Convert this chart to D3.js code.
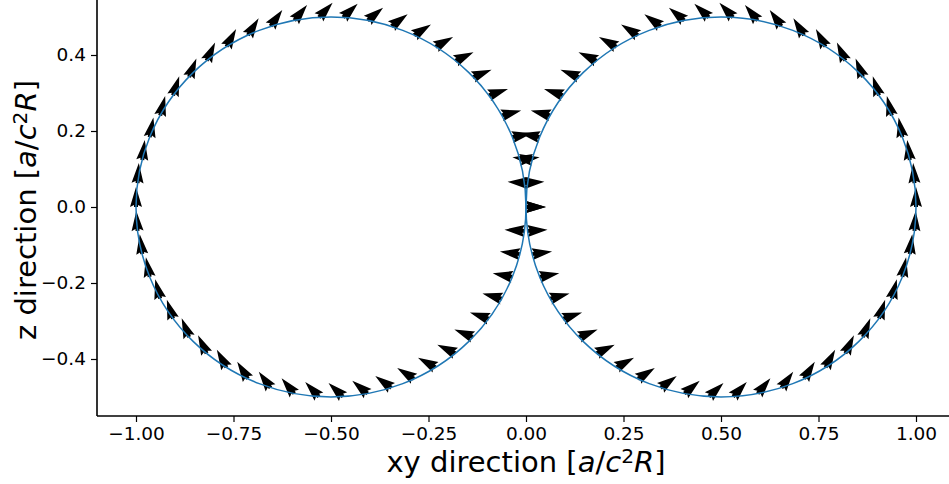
<!DOCTYPE html>
<html><head><meta charset="utf-8">
<script src="https://cdn.jsdelivr.net/npm/d3@7"></script>
<style>
body{margin:0;background:#fff}
svg{display:block}
text{font-family:"DejaVu Sans",sans-serif;fill:#000}
</style>
</head><body>
<svg id="c" width="949" height="484"></svg>
<script>
const xTicks = [-1, -0.75, -0.5, -0.25, 0, 0.25, 0.5, 0.75, 1];
const xTickLabels = ["\u22121.00","\u22120.75","\u22120.50","\u22120.25","0.00","0.25","0.50","0.75","1.00"];
const yTicks = [-0.4, -0.2, 0, 0.2, 0.4];
const yTickLabels = ["\u22120.4","\u22120.2","0.0","0.2","0.4"];
const circleCenters = [-0.5, 0.5];
const circleRadius = 0.5;

// arrow tails (xy, z) and direction angle in degrees (counter-clockwise from +xy)
const arrowXY = [
 0.004, 0.016, 0.035, 0.062, 0.095, 0.136, 0.181, 0.232, 0.287, 0.345, 0.406, 0.469,
 0.531, 0.594, 0.655, 0.713, 0.768, 0.819, 0.864, 0.905, 0.938, 0.965, 0.984, 0.996, 1.000,
 0.996, 0.984, 0.965, 0.938, 0.905, 0.864, 0.819, 0.768, 0.713, 0.655, 0.594, 0.531,
 0.469, 0.406, 0.345, 0.287, 0.232, 0.181, 0.136, 0.095, 0.062, 0.035, 0.016, 0.004, 0.000,
 -0.004, -0.016, -0.035, -0.062, -0.095, -0.136, -0.181, -0.232, -0.287, -0.345, -0.406, -0.469,
 -0.531, -0.594, -0.655, -0.713, -0.768, -0.819, -0.864, -0.905, -0.938, -0.965, -0.984, -0.996, -1.000,
 -0.996, -0.984, -0.965, -0.938, -0.905, -0.864, -0.819, -0.768, -0.713, -0.655, -0.594, -0.531,
 -0.469, -0.406, -0.345, -0.287, -0.232, -0.181, -0.136, -0.095, -0.062, -0.035, -0.016, -0.004, 0.000
];
const arrowZ = [
 0.063, 0.124, 0.184, 0.241, 0.294, 0.342, 0.385, 0.422, 0.452, 0.476, 0.491, 0.499,
 0.499, 0.491, 0.476, 0.452, 0.422, 0.385, 0.342, 0.294, 0.241, 0.184, 0.124, 0.063, 0.000,
 -0.063, -0.124, -0.184, -0.241, -0.294, -0.342, -0.385, -0.422, -0.452, -0.476, -0.491, -0.499,
 -0.499, -0.491, -0.476, -0.452, -0.422, -0.385, -0.342, -0.294, -0.241, -0.184, -0.124, -0.063, 0.000,
 -0.063, -0.124, -0.184, -0.241, -0.294, -0.342, -0.385, -0.422, -0.452, -0.476, -0.491, -0.499,
 -0.499, -0.491, -0.476, -0.452, -0.422, -0.385, -0.342, -0.294, -0.241, -0.184, -0.124, -0.063, 0.000,
 0.063, 0.124, 0.184, 0.241, 0.294, 0.342, 0.385, 0.422, 0.452, 0.476, 0.491, 0.499,
 0.499, 0.491, 0.476, 0.452, 0.422, 0.385, 0.342, 0.294, 0.241, 0.184, 0.124, 0.063, 0.000
];
const arrowDeg = [
 176.4, 172.8, 169.2, 165.6, 162.0, 158.4, 154.8, 151.2, 147.6, 144.0, 140.4, 136.8,
 133.2, 129.6, 126.0, 122.4, 118.8, 115.2, 111.6, 108.0, 104.4, 100.8, 97.2, 93.6, 90.0,
 86.4, 82.8, 79.2, 75.6, 72.0, 68.4, 64.8, 61.2, 57.6, 54.0, 50.4, 46.8,
 43.2, 39.6, 36.0, 32.4, 28.8, 25.2, 21.6, 18.0, 14.4, 10.8, 7.2, 3.6, 0.0,
 176.4, 172.8, 169.2, 165.6, 162.0, 158.4, 154.8, 151.2, 147.6, 144.0, 140.4, 136.8,
 133.2, 129.6, 126.0, 122.4, 118.8, 115.2, 111.6, 108.0, 104.4, 100.8, 97.2, 93.6, 90.0,
 86.4, 82.8, 79.2, 75.6, 72.0, 68.4, 64.8, 61.2, 57.6, 54.0, 50.4, 46.8,
 43.2, 39.6, 36.0, 32.4, 28.8, 25.2, 21.6, 18.0, 14.4, 10.8, 7.2, 3.6, 0.0
];

const svg = d3.select("#c");
const x = d3.scaleLinear().domain([-1.1, 1.1]).range([97, 955]);
const y = d3.scaleLinear().domain([-0.55, 0.55]).range([416, -2]);

// arrows (matplotlib quiver-like, head-only shape)
const L = 20;
const arrowPath = `M0,${-0.1*L} L${0.1*L},${-0.1*L} L0,${-0.3*L} L${L},0 L0,${0.3*L} L${0.1*L},${0.1*L} L0,${0.1*L} Z`;
const arrows = arrowXY.map((v, i) => ({xy: v, z: arrowZ[i], deg: arrowDeg[i]}));
svg.append("g").selectAll("path").data(arrows).join("path")
  .attr("d", arrowPath)
  .attr("transform", d => `translate(${x(d.xy)},${y(d.z)}) rotate(${-d.deg})`)
  .attr("fill", "#000");

// curve
svg.append("g").selectAll("ellipse").data(circleCenters).join("ellipse")
  .attr("cx", d => x(d)).attr("cy", y(0))
  .attr("rx", x(circleRadius) - x(0)).attr("ry", y(0) - y(circleRadius))
  .attr("fill", "none").attr("stroke", "#1f77b4").attr("stroke-width", 1.5);

// axes
const xAxis = d3.axisBottom(x).tickValues(xTicks).tickFormat((d, i) => xTickLabels[i]).tickSize(6).tickPadding(5);
const yAxis = d3.axisLeft(y).tickValues(yTicks).tickFormat((d, i) => yTickLabels[i]).tickSize(6).tickPadding(5);
const gx = svg.append("g").attr("transform", "translate(0,416)").call(xAxis);
const gy = svg.append("g").attr("transform", "translate(97,0)").call(yAxis);
[gx, gy].forEach(g => {
  g.select(".domain").remove();
  g.selectAll(".tick line").attr("stroke", "#000").attr("stroke-width", 1.2);
  g.selectAll(".tick text").attr("font-family", "DejaVu Sans").attr("font-size", 18.5).attr("fill", "#000");
});
svg.append("line").attr("x1", 97).attr("x2", 949).attr("y1", 416).attr("y2", 416).attr("stroke", "#000").attr("stroke-width", 1.6);
svg.append("line").attr("x1", 97).attr("x2", 97).attr("y1", 0).attr("y2", 416).attr("stroke", "#000").attr("stroke-width", 1.6);

function label(t) {
  t.append("tspan").text("[");
  t.append("tspan").attr("font-style", "italic").text("a");
  t.append("tspan").text("/");
  t.append("tspan").attr("font-style", "italic").text("c");
  t.append("tspan").attr("font-size", "70%").attr("dy", "-0.45em").text("2");
  t.append("tspan").attr("font-style", "italic").attr("dy", "0.315em").text("R");
  t.append("tspan").text("]");
}
const xl = svg.append("text").attr("x", 526).attr("y", 472).attr("text-anchor", "middle").attr("font-size", 29);
xl.append("tspan").text("xy direction ");
label(xl);
const yl = svg.append("text").attr("transform", "translate(36,210) rotate(-90)").attr("text-anchor", "middle").attr("font-size", 29);
yl.append("tspan").text("z direction ");
label(yl);
</script>
</body></html>
